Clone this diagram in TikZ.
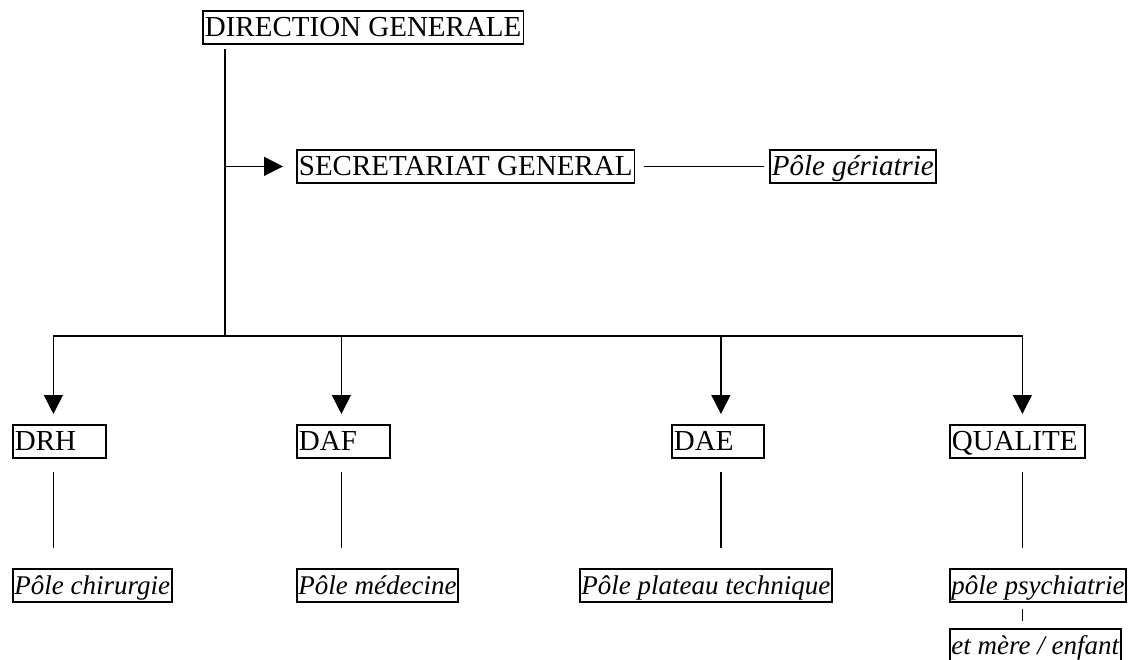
\documentclass[tikz,border=0pt]{standalone}
\usepackage{fontspec}
\setmainfont{Liberation Serif}
\usepackage{tikz}
\usetikzlibrary{arrows.meta,calc}

\tikzset{
  unit/.style={draw, line width=1.8pt, anchor=north west, inner xsep=2pt, inner ysep=0pt,
    text height=26pt, text depth=7pt, align=left, font=\fontsize{29pt}{34pt}\selectfont},
  pole/.style={unit, font=\fontsize{29pt}{34pt}\selectfont\itshape},
  subpole/.style={unit, inner xsep=1.5pt, font=\fontsize{27pt}{32pt}\selectfont\itshape},
  link/.style={line width=1.5pt},
  down/.style={link, -{Triangle[length=19pt,width=19pt]}},
}

\begin{document}
\begin{tikzpicture}[x=1pt,y=-1pt]
    \useasboundingbox (0,0) rectangle (1133,660);
    \clip (0,0) rectangle (1133,660);

    % Direction and secretariat
    \node[unit] (dg) at (202,10) {DIRECTION GENERALE};
    \node[unit] (sg) at (296,149) {SECRETARIAT GENERAL};
    \node[pole] (ger) at (769,149) {Pôle gériatrie};

    % Directions
    \node[unit, text width=89pt] (drh) at (12,424) {DRH};
    \node[unit, text width=89pt] (daf) at (296,424) {DAF};
    \node[unit, text width=88pt] (dae) at (671,424) {DAE};
    \node[unit, text width=131pt] (qua) at (949,424) {QUALITE};

    % Poles
    \node[subpole] (chir) at (12,568) {Pôle chirurgie};
    \node[subpole] (med) at (296,568) {Pôle médecine};
    \node[subpole] (plat) at (579,568) {Pôle plateau technique};
    \node[subpole] (psy) at (949,568) {pôle psychiatrie};
    \node[subpole] (mere) at (949,628) {et mère / enfant};

    % Trunk
    \coordinate (split) at (225,336);
    \draw[link] ([yshift=-4pt]dg.south -| split) -- (split);
    \draw[down] (split |- sg.west) -- ([xshift=-13pt]sg.west);
    \draw[link] ([xshift=9pt]sg.east) -- ([xshift=-5pt]ger.west);

    % Bus to the directions
    \draw[down] (split) -| ([xshift=-6pt,yshift=10pt]drh.north);
    \draw[down] (split) -| ([xshift=-2pt,yshift=10pt]daf.north);
    \draw[down] (split) -| ([xshift=3pt,yshift=10pt]dae.north);
    \draw[down] (split) -| ([xshift=5pt,yshift=10pt]qua.north);

    % Directions to poles
    \draw[link, shorten <=13pt, shorten >=20pt] ([xshift=-6pt]drh.south) -- ([xshift=-6pt]drh.south |- chir.north);
    \draw[link, shorten <=13pt, shorten >=20pt] ([xshift=-2pt]daf.south) -- ([xshift=-2pt]daf.south |- med.north);
    \draw[link, shorten <=13pt, shorten >=20pt] ([xshift=3pt]dae.south) -- ([xshift=3pt]dae.south |- plat.north);
    \draw[link, shorten <=13pt, shorten >=20pt] ([xshift=5pt]qua.south) -- ([xshift=5pt]qua.south |- psy.north);
    \draw[link, shorten <=6pt, shorten >=7pt] ([xshift=5pt]qua.south |- psy.south) -- ([xshift=5pt]qua.south |- mere.north);
\end{tikzpicture}
\end{document}
